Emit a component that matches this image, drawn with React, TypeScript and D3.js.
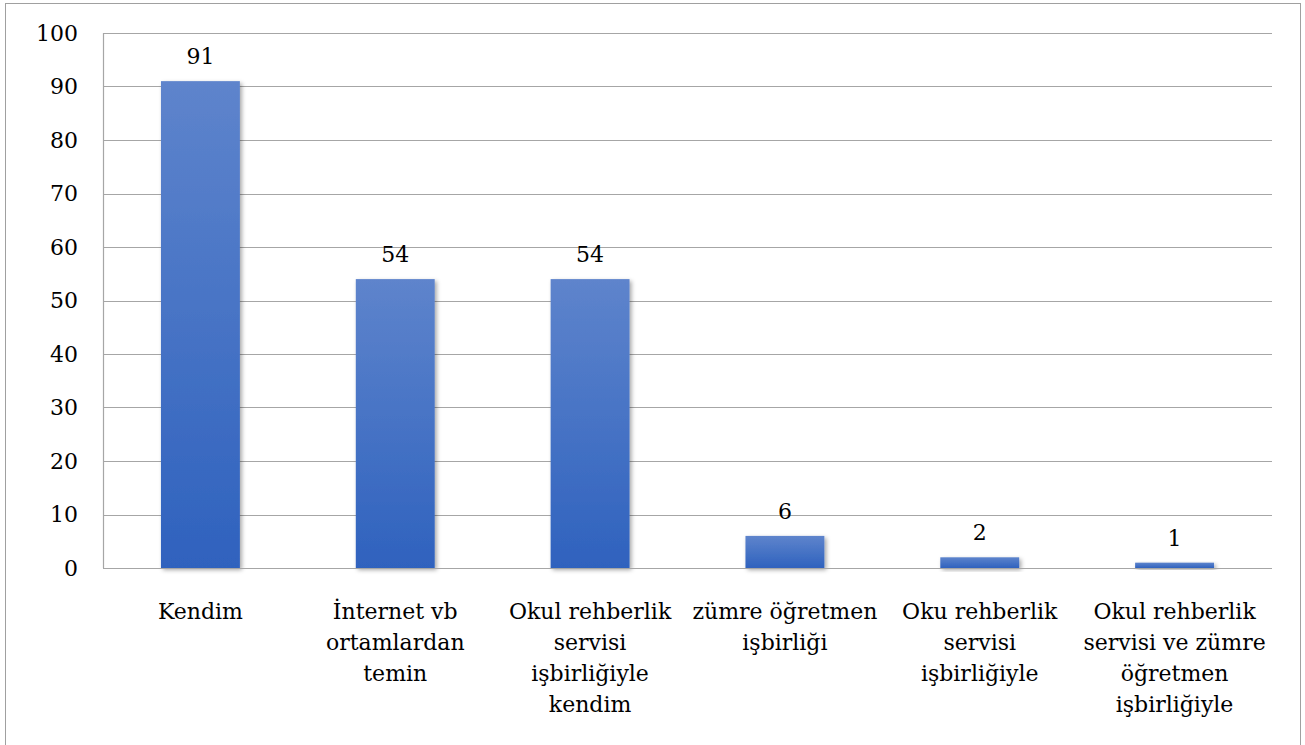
import React from "react";
import * as d3 from "d3";

const categories = [
  "Kendim",
  "İnternet vb ortamlardan temin",
  "Okul rehberlik servisi işbirliğiyle kendim",
  "zümre öğretmen işbirliği",
  "Oku rehberlik servisi işbirliğiyle",
  "Okul rehberlik servisi ve zümre öğretmen işbirliğiyle",
];
const labelLines = [
  ["Kendim"],
  ["İnternet vb", "ortamlardan", "temin"],
  ["Okul rehberlik", "servisi", "işbirliğiyle", "kendim"],
  ["zümre öğretmen", "işbirliği"],
  ["Oku rehberlik", "servisi", "işbirliğiyle"],
  ["Okul rehberlik", "servisi ve zümre", "öğretmen", "işbirliğiyle"],
];
const values = [91, 54, 54, 6, 2, 1];
const yTicks = [0, 10, 20, 30, 40, 50, 60, 70, 80, 90, 100];

const W = 1305;
const H = 745;
const plotL = 103;
const plotR = 1272;
const plotT = 33;
const plotB = 568;
const FONT = "'DejaVu Serif', serif";

export default function App() {
  const x = d3.scaleBand<string>().domain(categories).range([plotL, plotR]).padding(0);
  const y = d3.scaleLinear().domain([0, 100]).range([plotB, plotT]);
  const bw = x.bandwidth() * 0.405;

  return (
    <svg
      width={W}
      height={H}
      style={{ position: "absolute", left: 0, top: 0, background: "#fff" }}
      fontFamily={FONT}
    >
      <defs>
        <linearGradient id="barGrad" x1="0" y1="0" x2="0" y2="1">
          <stop offset="0%" stopColor="#5E84CC" />
          <stop offset="100%" stopColor="#2F62BE" />
        </linearGradient>
        <filter id="shadow" x="-20%" y="-20%" width="150%" height="150%">
          <feDropShadow dx="2" dy="2" stdDeviation="2" floodColor="#000" floodOpacity="0.35" />
        </filter>
      </defs>
      <rect x={5.5} y={3.5} width={1295} height={760} fill="#fff" stroke="#a0a0a0" strokeWidth={1} />
      {yTicks.map((t) => (
        <g key={t}>
          {t > 0 && (
            <line x1={plotL} x2={plotR} y1={Math.round(y(t)) + 0.5} y2={Math.round(y(t)) + 0.5} stroke="#a6a6a6" strokeWidth={1.2} />
          )}
          <text x={78} y={y(t)} dy="0.36em" textAnchor="end" fontSize={22} fill="#000">
            {t}
          </text>
        </g>
      ))}
      {categories.map((c, i) => {
        const cx = (x(c) as number) + x.bandwidth() / 2;
        const top = y(values[i]);
        return (
          <g key={c}>
            <rect
              x={cx - bw / 2}
              y={top}
              width={bw}
              height={plotB - top}
              fill="url(#barGrad)"
              filter="url(#shadow)"
            />
            <text x={cx} y={top - 17} textAnchor="middle" fontSize={22} fill="#000">
              {values[i]}
            </text>
            {labelLines[i].map((ln, j) => (
              <text key={j} x={cx} y={619 + j * 31} textAnchor="middle" fontSize={22} fill="#000">
                {ln}
              </text>
            ))}
          </g>
        );
      })}
      <line x1={plotL} x2={plotR} y1={plotB + 0.5} y2={plotB + 0.5} stroke="#a6a6a6" strokeWidth={1.2} />
      <line x1={plotL + 0.5} x2={plotL + 0.5} y1={plotT} y2={plotB} stroke="#a6a6a6" strokeWidth={1.2} />
    </svg>
  );
}
